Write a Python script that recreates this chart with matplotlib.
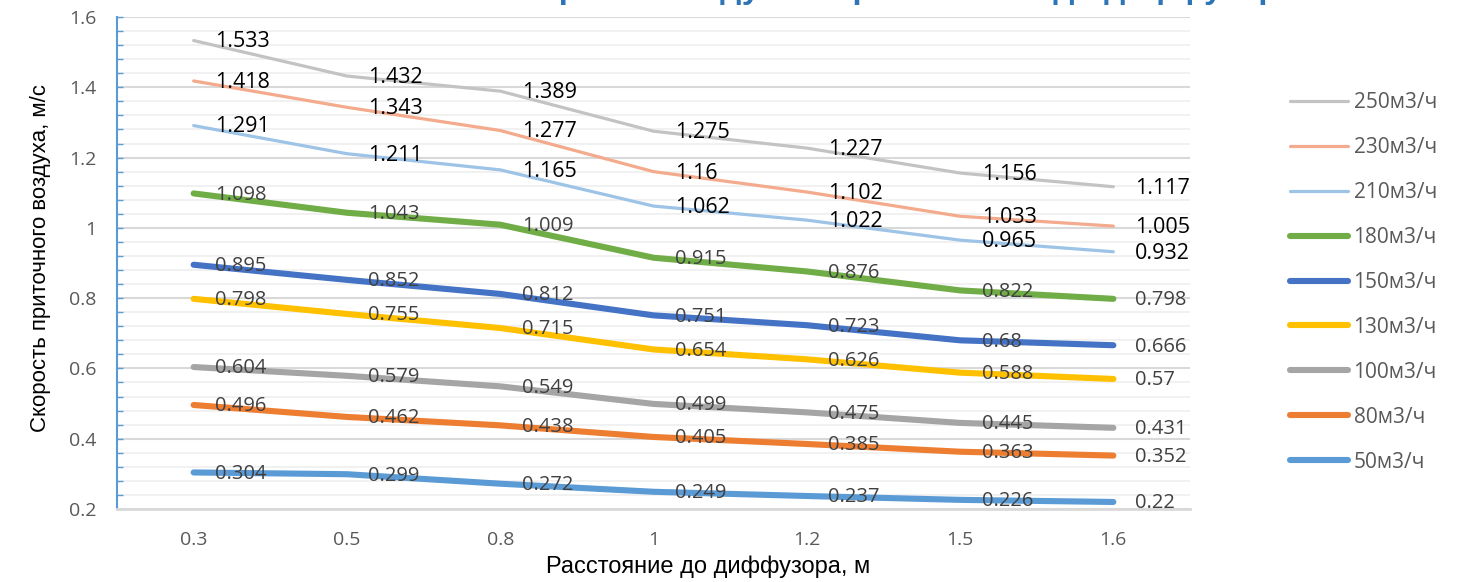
#Imports y config
import numpy as np
import matplotlib
matplotlib.use("Agg")
import matplotlib.pyplot as plt
from matplotlib.ticker import MultipleLocator, FuncFormatter

OUT_FILE = "out.png"

#Datos
distancias = ["0.3", "0.5", "0.8", "1", "1.2", "1.5", "1.6"]

series_nombres = ["250м3/ч", "230м3/ч", "210м3/ч", "180м3/ч", "150м3/ч",
                  "130м3/ч", "100м3/ч", "80м3/ч", "50м3/ч"]

v250 = [1.533, 1.432, 1.389, 1.275, 1.227, 1.156, 1.117]
v230 = [1.418, 1.343, 1.277, 1.16, 1.102, 1.033, 1.005]
v210 = [1.291, 1.211, 1.165, 1.062, 1.022, 0.965, 0.932]
v180 = [1.098, 1.043, 1.009, 0.915, 0.876, 0.822, 0.798]
v150 = [0.895, 0.852, 0.812, 0.751, 0.723, 0.68, 0.666]
v130 = [0.798, 0.755, 0.715, 0.654, 0.626, 0.588, 0.57]
v100 = [0.604, 0.579, 0.549, 0.499, 0.475, 0.445, 0.431]
v80 = [0.496, 0.462, 0.438, 0.405, 0.385, 0.363, 0.352]
v50 = [0.304, 0.299, 0.272, 0.249, 0.237, 0.226, 0.22]

valores = [v250, v230, v210, v180, v150, v130, v100, v80, v50]

colores = ["#C3C3C3", "#F4AA8C", "#9DC3E6", "#70AD47", "#4472C4",
           "#FFC000", "#A5A5A5", "#ED7D31", "#5B9BD5"]

#las tres primeras series: linea fina y etiqueta negra grande
finas = [True, True, True, False, False, False, False, False, False]

titulo = "Зависимость скорости воздуха от расстояния до диффузора"
xlabel = "Расстояние до диффузора, м"
ylabel = "Скорость приточного воздуха, м/с"

FONT = ["Open Sans", "DejaVu Sans"]
FONT_ARIAL = ["Liberation Sans", "DejaVu Sans"]

#Figura
fig = plt.figure(figsize=(14.65, 5.82), dpi=100)
ax = fig.add_axes([117/1465, 1-509/582, (1190-117)/1465, (509-17)/582])

x = np.arange(len(distancias))

#dibujar de abajo hacia arriba (como Excel)
for nombre, vals, col, fina in reversed(list(zip(series_nombres, valores, colores, finas))):
    lw = 2.3 if fina else 4.4
    ax.plot(x, vals, color=col, lw=lw, solid_capstyle="round",
            solid_joinstyle="round", label=nombre, zorder=3)

#etiquetas de datos
for vals, fina in zip(valores, finas):
    for xi, v in zip(x, vals):
        ax.annotate(f"{v:g}", (xi, v), xytext=(15.5, -1), textcoords="offset points",
                    ha="left", va="center",
                    fontsize=15.5 if fina else 14.5,
                    color="#000000" if fina else "#404040",
                    family=FONT, zorder=5, annotation_clip=False)

#Ejes
ax.set_xlim(-0.5, 6.5)
ax.set_ylim(0.2, 1.6)
ax.set_xticks(x)
ax.set_xticklabels(distancias)
ax.yaxis.set_major_locator(MultipleLocator(0.2))
ax.yaxis.set_minor_locator(MultipleLocator(0.04))
ax.yaxis.set_major_formatter(FuncFormatter(lambda v, p: f"{v:.1f}".rstrip("0").rstrip(".")))

ax.grid(True, which="major", axis="y", color="#D9D9D9", lw=1.5, zorder=0)
ax.grid(True, which="minor", axis="y", color="#EFEFEF", lw=1.2, zorder=0)
ax.set_axisbelow(True)

for s in ["top", "right"]:
    ax.spines[s].set_visible(False)
ax.spines["bottom"].set_color("#D9D9D9")
ax.spines["bottom"].set_linewidth(2)
ax.spines["left"].set_color("#5B9BD5")
ax.spines["left"].set_linewidth(1.5)

ax.tick_params(axis="x", length=0, pad=16, labelsize=14, labelcolor="#595959")
ax.tick_params(axis="y", which="major", direction="in", length=4, width=1,
               color="#5B9BD5", pad=15, labelsize=14, labelcolor="#595959")
ax.tick_params(axis="y", which="minor", direction="in", length=4, width=1,
               color="#5B9BD5")
for lab in ax.get_xticklabels() + ax.get_yticklabels():
    lab.set_family(FONT)

#titulos de ejes (el de x va algo a la derecha, como en Excel)
ax.set_xlabel(xlabel, fontsize=17, family=FONT_ARIAL)
ax.set_ylabel(ylabel, fontsize=16, family=FONT_ARIAL)
ax.xaxis.set_label_coords((708-117)/1073, -(555-509)/492)
ax.yaxis.set_label_coords(-(117-51)/1073, (509-258)/492)

#titulo recortado arriba (solo se ven los trazos inferiores)
fig.text(1297/1465, 1 + 2/582, titulo, ha="right", va="baseline", fontsize=24,
         color="#2E75B6", family=FONT_ARIAL, fontweight="bold")

#Leyenda
handles, labels = ax.get_legend_handles_labels()
handles, labels = handles[::-1], labels[::-1]
leg = fig.legend(handles, labels, loc="upper left",
                 bbox_to_anchor=(1290/1465, 1-92/582),
                 frameon=False, borderaxespad=0, borderpad=0,
                 handlelength=2.8, handletextpad=0.25, labelspacing=1.15,
                 prop={"family": FONT, "size": 15})
for t in leg.get_texts():
    t.set_color("#595959")

fig.savefig(OUT_FILE, dpi=100)
plt.close(fig)
